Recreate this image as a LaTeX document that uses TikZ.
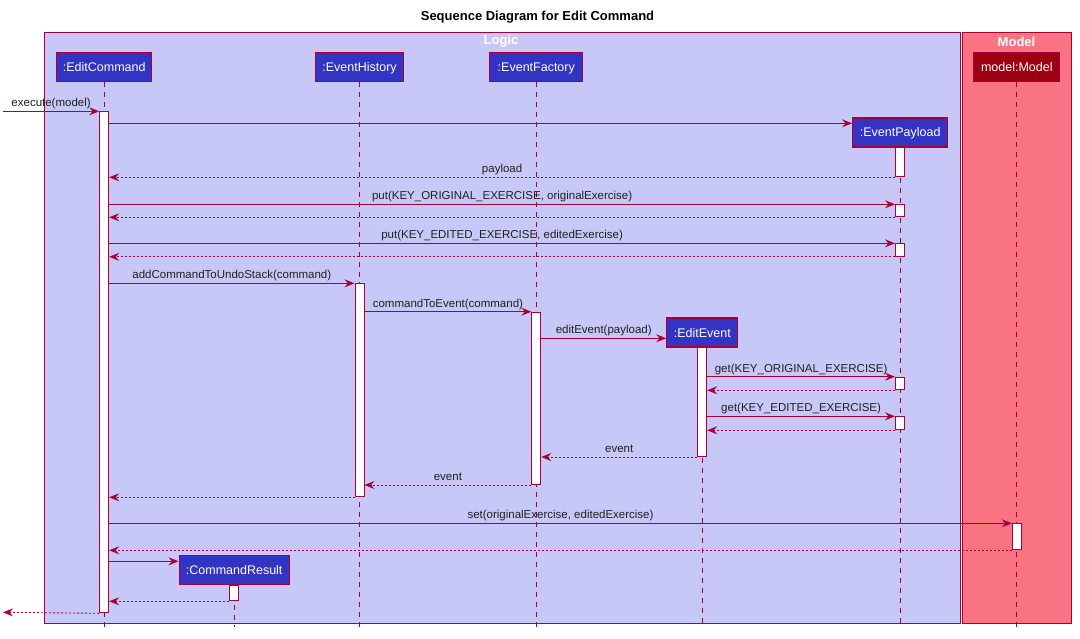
\documentclass[tikz,border=0pt]{standalone}
\usepackage{fontspec}
\setmainfont{Liberation Sans}
\usetikzlibrary{arrows.meta}
\definecolor{crim}{HTML}{A80036}
\definecolor{logicbg}{HTML}{C8C8F8}
\definecolor{modelbg}{HTML}{FA7383}
\definecolor{partblue}{HTML}{3333C4}
\definecolor{partred}{HTML}{9D0012}
\definecolor{txt}{HTML}{202020}
\begin{document}
\begin{tikzpicture}[x=1pt,y=-1pt,
  part/.style={draw=crim, line width=1.3pt, fill=partblue, text=white,
    font=\fontsize{12.5}{14}\selectfont, minimum height=29pt, inner sep=0pt,
    text height=9pt, text depth=0pt},
  act/.style={draw=crim, line width=1pt, fill=white, minimum width=9pt,
    inner sep=0pt, anchor=north},
  life/.style={draw=crim, line width=0.9pt, dash pattern=on 5pt off 5pt},
  msg/.style={draw=crim, line width=0.9pt, -{Stealth[length=10pt,width=8pt,inset=3.5pt]}},
  ret/.style={msg, dash pattern=on 2pt off 2pt},
  lbl/.style={text=txt, font=\fontsize{11.5}{13}\selectfont, inner sep=0pt,
    anchor=base, yshift=4.5pt},
  grp/.style={draw=crim, line width=1pt},
  grplbl/.style={text=white, font=\bfseries\fontsize{13}{15}\selectfont, inner sep=0pt}
]
\useasboundingbox (0,0) rectangle (1080,638);
% title
\node[font=\bfseries\fontsize{13}{15}\selectfont, inner sep=0pt] (title) at (537.5,17) {Sequence Diagram for Edit Command};
% groups
\path[grp, fill=logicbg] (44.3,32.3) rectangle (960.7,623.3);
\path[grp, fill=modelbg] (962,32.3) rectangle (1071.5,623.3);
\node[grplbl] (logiclbl) at (501,41.5) {Logic};
\node[grplbl] (modellbl) at (1016.5,41.5) {Model};
% participants (placed first to get anchors)
\node[part, minimum width=95pt] (ec) at (104.2,66.7) {:EditCommand};
\node[part, minimum width=88pt] (eh) at (359.5,66.7) {:EventHistory};
\node[part, minimum width=93pt] (ef) at (536.3,66.7) {:EventFactory};
\node[part, minimum width=86pt, fill=partred] (mm) at (1016.8,66.7) {model:Model};
\node[part, minimum width=95pt] (ep) at (900.2,132.4) {:EventPayload};
\node[part, minimum width=71pt] (ee) at (702.3,332.5) {:EditEvent};
\node[part, minimum width=110pt] (cr) at (234.2,570.3) {:CommandResult};
% lifelines
\coordinate (ecend) at (104.2,627);
\coordinate (ehend) at (359.5,627);
\coordinate (efend) at (536.3,627);
\coordinate (mmend) at (1016.8,627);
\coordinate (epend) at (900.2,627);
\coordinate (eeend) at (702.3,627);
\coordinate (crend) at (234.2,627);
\draw[life] (ec.south) -- (ecend);
\draw[life] (eh.south) -- (ehend);
\draw[life] (ef.south) -- (efend);
\draw[life] (mm.south) -- (mmend);
\draw[life] (ep.south) -- (epend);
\draw[life] (ee.south) -- (eeend);
\draw[life] (cr.south) -- (crend);
% activation bars
\node[act, minimum height=501pt] (ec1) at (104.2,111.3) {};
\node[act, minimum height=29.6pt] (ep1) at (900,146.7) {};
\node[act, minimum height=12pt] (ep2) at (900,204.3) {};
\node[act, minimum height=12.5pt] (ep3) at (900,243.3) {};
\node[act, minimum height=12.6pt] (ep4) at (900,376.7) {};
\node[act, minimum height=13pt] (ep5) at (900,416.3) {};
\node[act, minimum height=213pt] (eh1) at (359.5,283.3) {};
\node[act, minimum height=172.3pt] (ef1) at (536.3,311.7) {};
\node[act, minimum height=109.3pt] (ee1) at (702.2,346.7) {};
\node[act, minimum height=26pt] (mm1) at (1016.8,523.3) {};
\node[act, minimum height=15.6pt] (cr1) at (234.2,584.7) {};
% messages
\coordinate (in) at (3,111.3);
\coordinate (out) at (3,612.3);
\draw[msg] (in) -- node[lbl] {execute(model)} (ec1.north west);
\draw[msg] (ec1.east |- 0,123.3) -- (ep.west |- 0,123.3);
\draw[ret] (ep1.south west) -- node[lbl] {payload} (ec1.east |- ep1.south);
\draw[msg] (ec1.east |- ep2.north) -- node[lbl] {put(KEY\_ORIGINAL\_EXERCISE, originalExercise)} (ep2.north west);
\draw[ret] (ep2.south west) -- (ec1.east |- ep2.south);
\draw[msg] (ec1.east |- ep3.north) -- node[lbl] {put(KEY\_EDITED\_EXERCISE, editedExercise)} (ep3.north west);
\draw[ret] (ep3.south west) -- (ec1.east |- ep3.south);
\draw[msg] (ec1.east |- eh1.north) -- node[lbl] {addCommandToUndoStack(command)} (eh1.north west);
\draw[msg] (eh1.east |- ef1.north) -- node[lbl] {commandToEvent(command)} (ef1.north west);
\draw[msg] (ef1.east |- 0,338.3) -- node[lbl] {editEvent(payload)} (ee.west |- 0,338.3);
\draw[msg] (ee1.east |- ep4.north) -- node[lbl] {get(KEY\_ORIGINAL\_EXERCISE)} (ep4.north west);
\draw[ret] (ep4.south west) -- (ee1.east |- ep4.south);
\draw[msg] (ee1.east |- ep5.north) -- node[lbl] {get(KEY\_EDITED\_EXERCISE)} (ep5.north west);
\draw[ret] (ep5.south west) -- (ee1.east |- ep5.south);
\draw[ret] (ee1.south west) -- node[lbl] {event} (ef1.east |- ee1.south);
\draw[ret] (ef1.south west) -- node[lbl] {event} (eh1.east |- ef1.south);
\draw[ret] (eh1.south west) -- (ec1.east |- eh1.south);
\draw[msg] (ec1.east |- mm1.north) -- node[lbl] {set(originalExercise, editedExercise)} (mm1.north west);
\draw[ret] (mm1.south west) -- (ec1.east |- mm1.south);
\draw[msg] (ec1.east |- 0,561.3) -- (cr.west |- 0,561.3);
\draw[ret] (cr1.south west) -- (ec1.east |- cr1.south);
\draw[ret] (ec1.south west) -- (out);
\end{tikzpicture}
\end{document}
